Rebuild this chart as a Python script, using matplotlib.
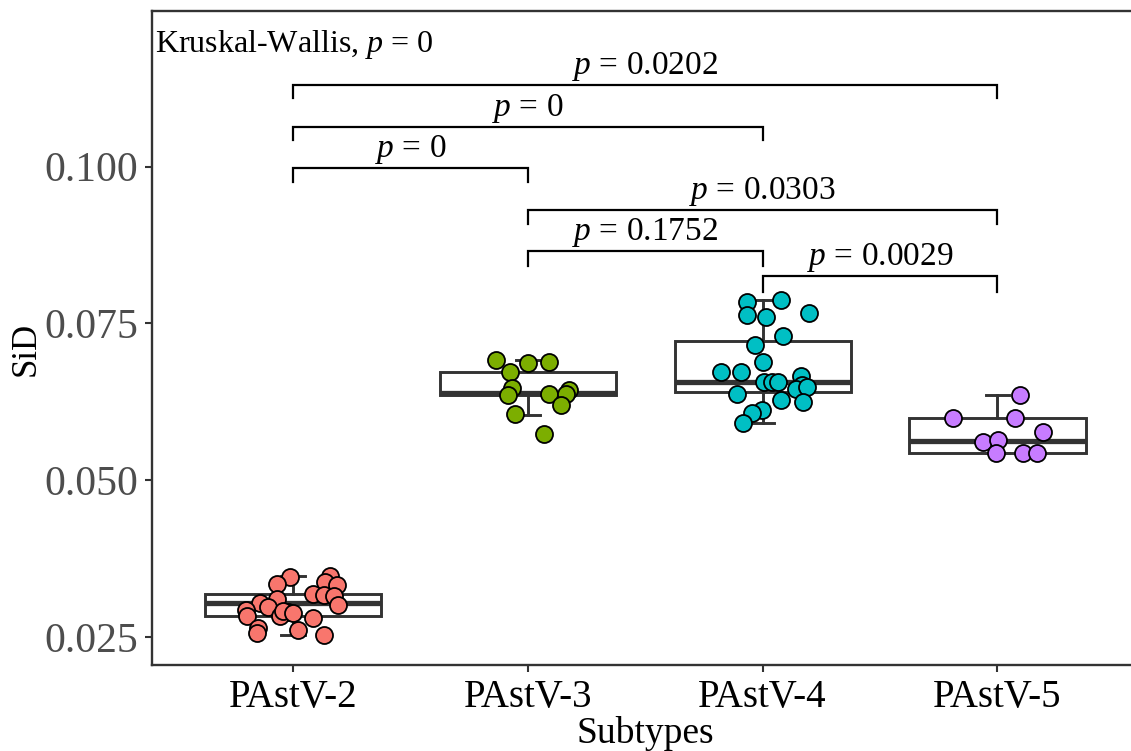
import matplotlib
matplotlib.use("Agg")
import matplotlib.pyplot as plt

plt.rcParams['font.family'] = ['Liberation Serif', 'DejaVu Serif']
plt.rcParams['mathtext.fontset'] = 'custom'
plt.rcParams['mathtext.rm'] = 'Liberation Serif'
plt.rcParams['mathtext.it'] = 'Liberation Serif:italic'

# ---------------- data ----------------
categories = ["PAstV-2", "PAstV-3", "PAstV-4", "PAstV-5"]
colors = ["#F8766D", "#7CAE00", "#00BFC4", "#C77CFF"]

sid_2 = [0.0345, 0.0334, 0.0347, 0.0337, 0.0333, 0.0318, 0.0317, 0.0315, 0.0301,
         0.0310, 0.0304, 0.0293, 0.0284, 0.0298, 0.0290, 0.0284, 0.0265, 0.0256,
         0.0261, 0.0280, 0.0253, 0.0292, 0.0288]
jit_2 = [-0.013, -0.069, 0.158, 0.136, 0.186, 0.084, 0.132, 0.175, 0.193,
         -0.067, -0.141, -0.201, -0.195, -0.105, -0.020, -0.055, -0.148, -0.152,
         0.023, 0.084, 0.133, -0.043, 0.000]

sid_3 = [0.0692, 0.0687, 0.0688, 0.0672, 0.0647, 0.0636, 0.0638, 0.0644, 0.0637,
         0.0620, 0.0605, 0.0573]
jit_3 = [-0.136, -0.001, 0.091, -0.075, -0.069, -0.084, 0.091, 0.176, 0.162,
         0.141, -0.054, 0.067]

sid_4 = [0.0785, 0.0788, 0.0764, 0.0761, 0.0766, 0.0730, 0.0716, 0.0688, 0.0673,
         0.0672, 0.0667, 0.0657, 0.0656, 0.0657, 0.0652, 0.0646, 0.0648, 0.0637,
         0.0628, 0.0624, 0.0612, 0.0607, 0.0592]
jit_4 = [-0.065, 0.080, -0.065, 0.013, 0.197, 0.088, -0.034, 0.003, -0.179,
         -0.091, 0.162, 0.006, 0.041, 0.065, 0.169, 0.141, 0.190, -0.111,
         0.077, 0.173, -0.001, -0.044, -0.082]

sid_5 = [0.0636, 0.0599, 0.0599, 0.0577, 0.0561, 0.0564, 0.0544, 0.0544, 0.0544]
jit_5 = [0.096, -0.188, 0.075, 0.195, -0.060, 0.003, -0.008, 0.110, 0.170]

# box summary per group
box_q1 = [0.0284, 0.0636, 0.0641, 0.0544]
box_med = [0.0305, 0.0639, 0.0656, 0.0563]
box_q3 = [0.0318, 0.0672, 0.0722, 0.0599]
box_lo = [0.0253, 0.0604, 0.0592, 0.0544]
box_hi = [0.0347, 0.0691, 0.0788, 0.0636]

# pairwise comparisons: (group a, group b, bracket y, tip bottom y, label)
cmp_a = [1, 1, 1, 2, 2, 3]
cmp_b = [4, 3, 2, 4, 3, 4]
cmp_y = [0.1130, 0.1064, 0.0998, 0.0931, 0.0866, 0.0826]
cmp_tip = [0.1110, 0.1042, 0.0975, 0.0908, 0.0842, 0.0800]
cmp_p = ["0.0202", "0", "0", "0.0303", "0.1752", "0.0029"]

kw_label = "Kruskal-Wallis, $p$ = 0"

yticks = [0.025, 0.050, 0.075, 0.100]
ytick_labels = ["0.025", "0.050", "0.075", "0.100"]

# ---------------- figure ----------------
W, H = 1131, 751
fig = plt.figure(figsize=(W / 100, H / 100), dpi=100)
ax = fig.add_axes([152 / W, 1 - 665 / H, (1138.4 - 152) / W, (665 - 11) / H])

dark = "#333333"
stats = []
for i in range(4):
    stats.append(dict(q1=box_q1[i], med=box_med[i], q3=box_q3[i],
                      whislo=box_lo[i], whishi=box_hi[i], fliers=[]))
ax.bxp(stats, positions=[1, 2, 3, 4], widths=0.75, capwidths=0.1,
       showfliers=False, patch_artist=True,
       boxprops=dict(facecolor="white", edgecolor=dark, linewidth=2.1),
       whiskerprops=dict(color=dark, linewidth=2.1),
       capprops=dict(color=dark, linewidth=2.1),
       medianprops=dict(color=dark, linewidth=3.8, solid_capstyle="butt"),
       zorder=2)

groups = [(sid_2, jit_2), (sid_3, jit_3), (sid_4, jit_4), (sid_5, jit_5)]
for i, (vals, jit) in enumerate(groups):
    xs = [i + 1 + j for j in jit]
    ax.scatter(xs, vals, s=150, facecolor=colors[i], edgecolor="black",
               linewidth=1.3, zorder=3)

# brackets
for a, b, y, t, p in zip(cmp_a, cmp_b, cmp_y, cmp_tip, cmp_p):
    ax.plot([a, a, b, b], [t, y, y, t], color="black", linewidth=1.6,
            solid_joinstyle="miter", zorder=4)
    ax.annotate("$p$ = " + p, xy=((a + b) / 2, y), xytext=(0, 8),
                textcoords="offset points", ha="center", va="baseline",
                fontsize=24, color="black")

ax.text(0.413, 0.1183, kw_label, ha="left", va="baseline", fontsize=23,
        color="black")

ax.set_xlim(0.4, 4.6)
ax.set_ylim(0.020534, 0.12484)
ax.set_xticks([1, 2, 3, 4])
ax.set_xticklabels(categories)
ax.set_yticks(yticks)
ax.set_yticklabels(ytick_labels)
ax.tick_params(axis="both", direction="out", length=5, width=1.5, color=dark,
               pad=5)
ax.tick_params(axis="y", labelsize=30, labelcolor="#4D4D4D")
ax.tick_params(axis="x", labelsize=28, labelcolor="black")
for sp in ax.spines.values():
    sp.set_color(dark)
    sp.set_linewidth(1.7)

ax.set_xlabel("Subtypes", fontsize=27, labelpad=0)
fig.text(26 / W, 1 - 349 / H, "SiD", rotation=90, ha="center", va="center",
         fontsize=25, color="black")

fig.savefig("out.png", dpi=100)
